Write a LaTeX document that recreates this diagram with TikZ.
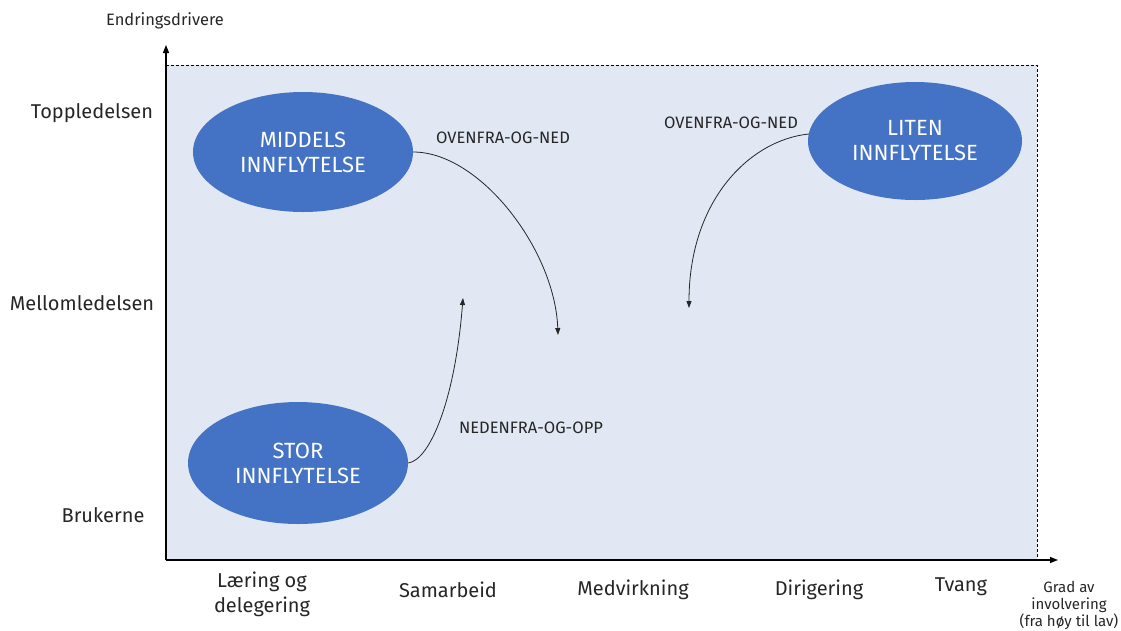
\documentclass[tikz,border=0pt]{standalone}
\usepackage{fontspec}
\setmainfont{Fira Sans}
\usetikzlibrary{shapes.geometric,arrows.meta}
\definecolor{panel}{HTML}{E1E8F4}
\definecolor{bubble}{HTML}{4472C4}
\definecolor{ink}{HTML}{262626}
\begin{document}
\begin{tikzpicture}[x=1pt,y=-1pt,
  bubble/.style={ellipse, fill=bubble, draw=none, text=white, align=center,
    inner sep=0pt, font=\fontsize{22}{25}\selectfont},
  lvl/.style={text=ink, font=\fontsize{20}{25}\selectfont, align=center},
  small/.style={text=ink, font=\fontsize{16.5}{17}\selectfont, align=center},
  flow/.style={draw=ink, line width=0.8pt, -{Triangle[length=7pt,width=5pt]}},
  axis/.style={draw=black, line width=1.2pt, -{Triangle[length=8pt,width=6pt]}},
  frame/.style={draw=black, line width=0.9pt, dash pattern=on 3pt off 2pt}]
\useasboundingbox (0,0) rectangle (1121,630);

% plotting area
\coordinate (o) at (166,560);
\coordinate (tl) at (166,65);
\coordinate (tr) at (1037,65);
\coordinate (br) at (1037,560);
\coordinate (ytop) at (166,45);
\coordinate (xend) at (1058,560);
\fill[panel] (tl) rectangle (br);
\draw[frame] (tl) -- (tr) -- (br);
\draw[axis] (o) -- (ytop);
\draw[axis] (o) -- (xend);

% axis titles
\node[small] (ytitle) at (165,21) {Endringsdrivere};
\node[small, font=\fontsize{15}{17}\selectfont, inner sep=1pt] (xtitle) at (1069,605) {Grad av\\involvering\\(fra høy til lav)};

% levels on the vertical axis
\node[lvl] (top) at (92,113) {Toppledelsen};
\node[lvl] (mid) at (82,303) {Mellomledelsen};
\node[lvl] (usr) at (103,515) {Brukerne};

% degrees of involvement on the horizontal axis
\node[lvl] (learn) at (262,594) {Læring og\\delegering};
\node[lvl] (coop) at (448,590) {Samarbeid};
\node[lvl] (part) at (633,590) {Medvirkning};
\node[lvl] (dir) at (819,590) {Dirigering};
\node[lvl] (force) at (961,587) {Tvang};

% influence bubbles
\node[bubble, minimum width=220pt, minimum height=120pt] (medium) at (303,152) {MIDDELS\\INNFLYTELSE};
\node[bubble, minimum width=214pt, minimum height=118pt] (small) at (915,141) {LITEN\\INNFLYTELSE};
\node[bubble, minimum width=220pt, minimum height=122pt] (large) at (298,463) {STOR\\INNFLYTELSE};

% change directions
\coordinate (m1) at (558,335);
\coordinate (s1) at (689,308);
\coordinate (l1) at (463,298);
\draw[flow] (medium.east) .. controls (480,152) and (555,250) .. (m1);
\draw[flow] (small.west) ++(1,-7) coordinate (s0) .. controls (750,140) and (689,200) .. (s1);
\draw[flow] (large.east) .. controls (430,460) and (455,400) .. (l1);

\node[small] (lab1) at (503,138) {OVENFRA-OG-NED};
\node[small] (lab2) at (731,123) {OVENFRA-OG-NED};
\node[small] (lab3) at (531,428) {NEDENFRA-OG-OPP};
\end{tikzpicture}
\end{document}
